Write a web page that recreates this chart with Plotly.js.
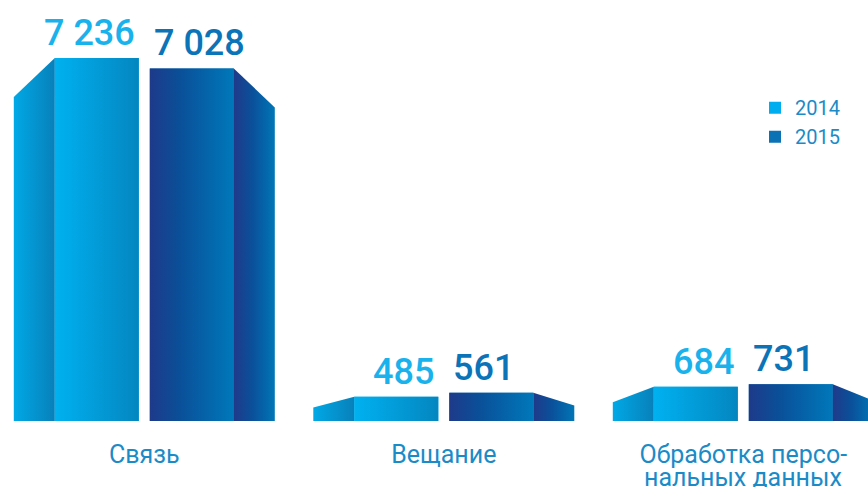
<!DOCTYPE html>
<html>
<head>
<meta charset="utf-8">
<script src="https://cdn.plot.ly/plotly-3.0.1.min.js"></script>
<style>html,body{margin:0;padding:0;background:#fff;}#chart{width:868px;height:487px;}</style>
</head>
<body>
<div id="chart"></div>
<script>
// ---- data ----
var categories = ["Связь", "Вещание", "Обработка персональных данных"];
var categoryLines = [["Связь"], ["Вещание"], ["Обработка персо-", "нальных данных"]];
var values2014 = [7236, 485, 684];
var values2015 = [7028, 561, 731];
var valueLabels2014 = ["7 236", "485", "684"];
var valueLabels2015 = ["7 028", "561", "731"];
var seriesNames = ["2014", "2015"];

// ---- style ----
var PX = 299.5;                 // px per category unit
var barW = 84 / PX;
var off14 = -89.5 / PX;
var off15 = 5.5 / PX;
var bevW = 41 / PX;
var yMax = 8392;
var dropCap = 777;              // max bevel drop in data units
var textBlue = "#1b8bc8";
var c14 = "#00aeef", c15 = "#0a72b5";

var xs = categories.map(function (c, i) { return i; });
var traces = [];

traces.push({type: "bar", name: seriesNames[0], x: xs, y: values2014, offset: off14, width: barW,
  marker: {color: c14}, hoverinfo: "y+name", showlegend: true});
traces.push({type: "bar", name: seriesNames[1], x: xs, y: values2015, offset: off15, width: barW,
  marker: {color: c15}, hoverinfo: "y+name", showlegend: true});

function poly(xsP, ysP, cs) {
  traces.push({type: "scatter", mode: "lines", x: xsP, y: ysP, fill: "toself",
    line: {width: 0, color: "rgba(0,0,0,0)"},
    fillgradient: {type: "horizontal", colorscale: cs},
    hoverinfo: "skip", showlegend: false});
}

xs.forEach(function (i) {
  var v = values2014[i];
  var outer = v - Math.min(dropCap, v * 0.45);
  var L = i + off14, R = L + barW;
  // left bevel
  poly([L - bevW, L, L, L - bevW, L - bevW], [0, 0, v, outer, 0],
       [[0, "#00a9e6"], [1, "#0880ba"]]);
  // main face
  poly([L, R, R, L, L], [0, 0, v, v, 0], [[0, "#00b1f0"], [1, "#0486c0"]]);

  var w = values2015[i];
  var outer2 = w - Math.min(dropCap, w * 0.45);
  var L2 = i + off15, R2 = L2 + barW;
  poly([L2, R2, R2, L2, L2], [0, 0, w, w, 0],
       [[0, "#1e3a8a"], [0.35, "#0a4f98"], [1, "#0078ba"]]);
  poly([R2, R2 + bevW, R2 + bevW, R2, R2], [0, 0, outer2, w, 0],
       [[0, "#1f3a8a"], [0.45, "#0a509a"], [1, "#0076b6"]]);
});

var annotations = [];
xs.forEach(function (i) {
  annotations.push({x: i + off14 + barW, y: values2014[i], xref: "x", yref: "y",
    text: valueLabels2014[i], showarrow: false, xanchor: "right", yanchor: "bottom",
    xshift: -2, yshift: 2,
    font: {family: "Roboto, sans-serif", size: 36, weight: 500, color: "#1ab2ec"}});
  annotations.push({x: i + off15, y: values2015[i], xref: "x", yref: "y",
    text: valueLabels2015[i], showarrow: false, xanchor: "left", yanchor: "bottom",
    xshift: 2, yshift: 2,
    font: {family: "Roboto, sans-serif", size: 36, weight: 500, color: "#0b74b8"}});
  for (var k = 1; k < categoryLines[i].length; k++) {
    annotations.push({x: i, y: 0, xref: "x", yref: "y", text: categoryLines[i][k],
      showarrow: false, xanchor: "center", yanchor: "top", yshift: -40 - 21 * (k - 1),
      font: {family: "Roboto, sans-serif", size: 25, color: textBlue}});
  }
});

var layout = {
  width: 868, height: 487,
  margin: {l: 0, r: 0, t: 0, b: 66, pad: 0},
  paper_bgcolor: "#ffffff", plot_bgcolor: "#ffffff",
  barmode: "overlay",
  xaxis: {range: [-144.3 / PX, (868 - 144.3) / PX], tickmode: "array", tickvals: xs,
    ticktext: categoryLines.map(function (l) { return l[0]; }),
    showgrid: false, zeroline: false, showline: false, ticks: "", ticklabelstandoff: 16,
    tickfont: {family: "Roboto, sans-serif", size: 25, color: textBlue}, fixedrange: true},
  yaxis: {range: [0, yMax], visible: false, showgrid: false, zeroline: false, fixedrange: true},
  legend: {x: 755 / 868, y: 1 - 102 / 487, xanchor: "left", yanchor: "top",
    font: {family: "Roboto, sans-serif", size: 20, color: textBlue}, bgcolor: "rgba(0,0,0,0)",
    tracegroupgap: 0, itemclick: false},
  annotations: annotations,
  showlegend: true
};

Plotly.newPlot("chart", traces, layout, {displayModeBar: false, staticPlot: true});
</script>
</body>
</html>
